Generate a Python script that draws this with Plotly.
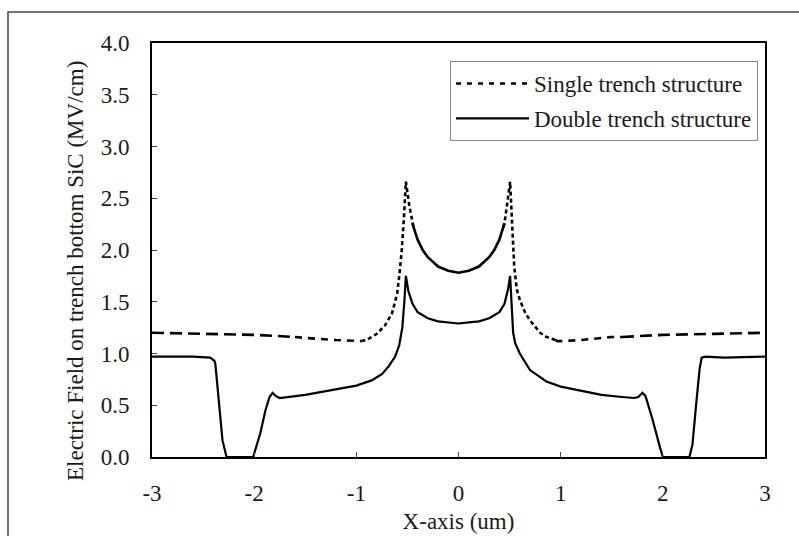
import plotly.graph_objects as go

# ---------------- data ----------------
single_x = [-3.0, -2.5, -2.0, -1.6, -1.5, -1.2, -1.0, -0.95, -0.9, -0.8, -0.72, -0.65, -0.6, -0.58,
            -0.555, -0.535, -0.515, -0.48, -0.45, -0.44, -0.4, -0.35, -0.3, -0.2, -0.1, 0.0,
            0.1, 0.2, 0.3, 0.35, 0.4, 0.44, 0.45, 0.47, 0.505, 0.525, 0.545, 0.57, 0.6, 0.65,
            0.7, 0.8, 0.86, 0.95, 0.97, 1.0, 1.2, 1.5, 1.6, 2.0, 2.5, 3.0]
single_y = [1.20, 1.19, 1.18, 1.16, 1.15, 1.13, 1.12, 1.12, 1.13, 1.19, 1.27, 1.39, 1.58, 1.75,
            2.00, 2.30, 2.66, 2.42, 2.26, 2.22, 2.10, 2.00, 1.93, 1.84, 1.80, 1.78,
            1.80, 1.84, 1.93, 2.00, 2.10, 2.22, 2.26, 2.40, 2.66, 2.25, 1.85, 1.62, 1.52, 1.40,
            1.32, 1.20, 1.16, 1.13, 1.12, 1.12, 1.13, 1.16, 1.16, 1.18, 1.19, 1.20]

double_x = [-3.0, -2.6, -2.43, -2.39, -2.38, -2.35, -2.31, -2.27, -2.01, -1.94, -1.89, -1.85,
            -1.82, -1.79, -1.75, -1.5, -1.2, -1.0, -0.85, -0.75, -0.68, -0.62, -0.58, -0.55,
            -0.53, -0.515, -0.49, -0.45, -0.4, -0.3, -0.2, -0.1, 0.0,
            0.1, 0.2, 0.3, 0.4, 0.45, 0.485, 0.505, 0.52, 0.535, 0.555, 0.6, 0.7, 0.86, 1.0,
            1.2, 1.4, 1.6, 1.72, 1.76, 1.80, 1.83, 1.90, 1.97, 2.0, 2.26, 2.29, 2.33, 2.36,
            2.38, 2.42, 2.6, 3.0]
double_y = [0.97, 0.97, 0.96, 0.93, 0.90, 0.55, 0.16, 0.0, 0.0, 0.23, 0.45, 0.58,
            0.62, 0.59, 0.57, 0.60, 0.65, 0.69, 0.74, 0.80, 0.88, 0.97, 1.08, 1.25,
            1.50, 1.75, 1.60, 1.48, 1.40, 1.34, 1.31, 1.30, 1.29,
            1.30, 1.31, 1.34, 1.40, 1.48, 1.62, 1.75, 1.45, 1.20, 1.10, 1.00, 0.84, 0.73, 0.68,
            0.64, 0.60, 0.58, 0.57, 0.58, 0.62, 0.59, 0.36, 0.10, 0.0, 0.0, 0.12, 0.55, 0.85,
            0.96, 0.97, 0.96, 0.97]

x_ticks = [-3, -2, -1, 0, 1, 2, 3]
y_ticks = [0.0, 0.5, 1.0, 1.5, 2.0, 2.5, 3.0, 3.5, 4.0]

series_names = ["Single trench structure", "Double trench structure"]
x_title = "X-axis (um)"
y_title = "Electric Field on trench bottom SiC (MV/cm)"

# ---------------- figure ----------------
FONT = "Liberation Serif, Times New Roman, serif"
INK = "#1a1a1a"
FS = 23

fig = go.Figure()

# single trench line drawn in pieces so the dash rhythm changes like the original
def seg(lo, hi):
    idx = [i for i, v in enumerate(single_x) if lo <= v <= hi]
    return [single_x[i] for i in idx], [single_y[i] for i in idx]

pieces = [
    ((-3.0, -1.6), "12px,6px"),
    ((-1.6, -0.95), "7px,6px"),
    ((-0.95, -0.44), "4px,3px"),
    ((-0.45, 0.45), "solid"),
    ((0.44, 0.95), "4px,3px"),
    ((0.95, 1.6), "7px,6px"),
    ((1.6, 3.0), "12px,6px"),
]
for (lo, hi), d in pieces:
    xs, ys = seg(lo, hi)
    fig.add_trace(go.Scatter(x=xs, y=ys, mode="lines", showlegend=False, hoverinfo="skip",
                             line=dict(color="black", width=2.6, dash=d)))

# legend entry for the single trench (the curve itself is drawn by the pieces above)
fig.add_trace(go.Scatter(x=[None], y=[None], mode="lines", name=series_names[0],
                         legendgroup="a",
                         line=dict(color="black", width=2.6, dash="5px,6px")))
fig.add_trace(go.Scatter(x=double_x, y=double_y, mode="lines", name=series_names[1],
                         legendgroup="b", line=dict(color="black", width=2.2)))

axis_common = dict(
    showline=True, linecolor="black", linewidth=2, mirror=True,
    ticks="inside", ticklen=5, tickwidth=1, tickcolor="#444",
    showgrid=False, zeroline=False, automargin=False,
    tickfont=dict(family=FONT, size=FS, color=INK),
)

fig.update_xaxes(range=[-3, 3], tickvals=x_ticks, ticktext=[str(v) for v in x_ticks],
                 ticklabelstandoff=14,
                 title=dict(text=x_title, font=dict(family=FONT, size=FS, color=INK), standoff=8),
                 **axis_common)
fig.update_yaxes(range=[0, 4], tickvals=y_ticks, ticktext=[f"{v:.1f}" for v in y_ticks],
                 ticklabelstandoff=16,
                 **axis_common)

W, H = 799, 536
L, R, T, B = 152, 34, 43, 79
pw, ph = W - L - R, H - T - B

fig.update_layout(
    width=W, height=H,
    margin=dict(l=L, r=R, t=T, b=B),
    paper_bgcolor="white", plot_bgcolor="white",
    font=dict(family=FONT, color=INK),
    legend=dict(
        x=(450 - L) / pw, y=1 - (61 - T) / ph, xanchor="left", yanchor="top",
        bgcolor="white", bordercolor="#888", borderwidth=1,
        font=dict(family=FONT, size=FS, color=INK),
        itemwidth=73, tracegroupgap=2, traceorder="grouped",
    ),
    annotations=[dict(text=y_title, textangle=-90, xref="paper", yref="paper",
                      x=(75 - L) / pw, y=1 - (271 - T) / ph, xanchor="center", yanchor="middle",
                      showarrow=False, font=dict(family=FONT, size=FS, color=INK))],
    shapes=[dict(type="rect", xref="paper", yref="paper",
                 x0=(8 - L) / pw, x1=2.0, y0=-1.0, y1=1 + (T - 12) / ph,
                 line=dict(color="#444", width=1.5), fillcolor="rgba(0,0,0,0)", layer="below")],
)

fig.write_html("out.html")
